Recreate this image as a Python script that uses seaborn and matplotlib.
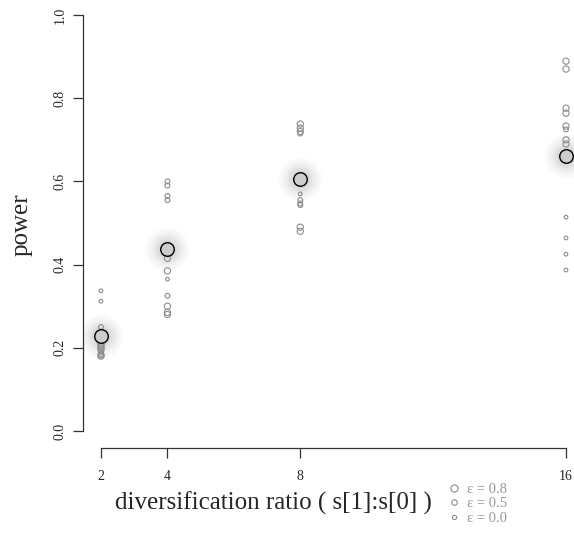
import matplotlib
matplotlib.use("Agg")
import matplotlib.pyplot as plt
from matplotlib.lines import Line2D
import seaborn as sns
import pandas as pd
import numpy as np

sns.set_style("white")
plt.rcParams['font.family'] = ['Liberation Serif', 'DejaVu Serif']

# ---- data ----
ratios = [2, 4, 8, 16]
x_ticks = [2, 4, 8, 16]
y_ticks = [0.0, 0.2, 0.4, 0.6, 0.8, 1.0]
y_tick_labels = ["0.0", "0.2", "0.4", "0.6", "0.8", "1.0"]
eps_levels = ["0.8", "0.5", "0.0"]

power_r2 = [0.337, 0.312, 0.250, 0.235, 0.210, 0.205, 0.200, 0.195, 0.190, 0.185, 0.183, 0.180]
eps_r2 = ["0.0", "0.0", "0.5", "0.5", "0.8", "0.8", "0.8", "0.8", "0.5", "0.5", "0.8", "0.8"]
power_r4 = [0.600, 0.590, 0.565, 0.555, 0.430, 0.415, 0.385, 0.365, 0.325, 0.300, 0.285, 0.280]
eps_r4 = ["0.5", "0.5", "0.5", "0.5", "0.8", "0.8", "0.8", "0.0", "0.5", "0.8", "0.8", "0.8"]
power_r8 = [0.738, 0.728, 0.720, 0.715, 0.570, 0.555, 0.547, 0.543, 0.490, 0.480]
eps_r8 = ["0.8", "0.8", "0.8", "0.5", "0.0", "0.5", "0.5", "0.5", "0.8", "0.8"]
power_r16 = [0.889, 0.870, 0.776, 0.764, 0.733, 0.725, 0.700, 0.690, 0.514, 0.464, 0.425, 0.387]
eps_r16 = ["0.8", "0.8", "0.8", "0.8", "0.8", "0.5", "0.8", "0.8", "0.0", "0.0", "0.0", "0.0"]
mean_power = [0.228, 0.437, 0.606, 0.661]

rows = []
for r, pw, ep in [(2, power_r2, eps_r2), (4, power_r4, eps_r4),
                  (8, power_r8, eps_r8), (16, power_r16, eps_r16)]:
    for p, e in zip(pw, ep):
        rows.append({"ratio": r, "power": p, "eps": e})
df = pd.DataFrame(rows)
means = pd.DataFrame({"ratio": ratios, "power": mean_power})

size_map = {"0.8": 20, "0.5": 12, "0.0": 7}
grey = "#8c8c8c"

W, H = 574, 534
fig = plt.figure(figsize=(W / 100, H / 100), dpi=100)
# axes in pixel geometry: left 83, right 574, bottom 448, top 0
ax = fig.add_axes([83 / W, (H - 448) / H, (W - 83) / W, 448 / H])

# x: 2 -> 101 px, 16 -> 566 px
pxu = (566 - 101) / 14.0
ax.set_xlim(2 - (101 - 83) / pxu, 16 + (574 - 566) / pxu)
pyu = (431 - 15) / 1.0
ax.set_ylim(-(448 - 431) / pyu, 1.0 + 15 / pyu)

# halo around means
for s, a in [(1000, 0.025), (780, 0.035), (580, 0.045), (420, 0.055), (290, 0.065), (180, 0.08)]:
    sns.scatterplot(data=means, x="ratio", y="power", s=s, color="#7a7a7a",
                    alpha=a, linewidth=0, ax=ax, legend=False, zorder=1)

for e in eps_levels:
    sub = df[df["eps"] == e]
    sns.scatterplot(data=sub, x="ratio", y="power", s=size_map[e],
                    facecolor="none", edgecolor=grey, linewidth=0.8,
                    ax=ax, legend=False, zorder=2)

sns.scatterplot(data=means, x="ratio", y="power", s=95, color="#cdcdcd",
                edgecolor="black", linewidth=1.0, ax=ax, legend=False, zorder=3)

sns.despine(ax=ax, top=True, right=True)
ax.spines["left"].set_bounds(0, 1)
ax.spines["bottom"].set_bounds(2, 16)
for sp in ["left", "bottom"]:
    ax.spines[sp].set_color("#333333")
    ax.spines[sp].set_linewidth(0.9)

ax.set_xticks(x_ticks)
ax.set_xticklabels([str(t) for t in x_ticks], fontsize=10)
ax.set_yticks(y_ticks)
ax.set_yticklabels(y_tick_labels, fontsize=10, rotation=90, va="center")
ax.tick_params(axis="both", direction="out", length=7, width=0.9,
               color="#333333", left=True, bottom=True)
ax.tick_params(axis="y", pad=5)
ax.tick_params(axis="x", pad=9)

ax.set_xlabel("diversification ratio ( s[1]:s[0] )", fontsize=18)
ax.xaxis.label.set_va("center")
ax.xaxis.set_label_coords(273 / W, 1 - 503 / H, transform=fig.transFigure)
ax.set_ylabel("power", fontsize=18)
ax.yaxis.label.set_va("center")
ax.yaxis.set_label_coords(22 / W, 1 - 225 / H, transform=fig.transFigure)

handles = [Line2D([], [], marker="o", linestyle="none", markerfacecolor="none",
                  markeredgecolor=grey, markeredgewidth=0.8,
                  markersize=np.sqrt(size_map[e]) * 1.15) for e in eps_levels]
labels = ["ε = " + e for e in eps_levels]
leg = ax.legend(handles, labels, loc="lower left", bbox_to_anchor=(439 / W, 2 / H),
                bbox_transform=fig.transFigure, frameon=False, fontsize=10.5,
                handletextpad=0.45, labelspacing=0.08, borderpad=0, handlelength=1.0)
for t in leg.get_texts():
    t.set_color("#999999")

fig.savefig("out.png", dpi=100, facecolor="white")
